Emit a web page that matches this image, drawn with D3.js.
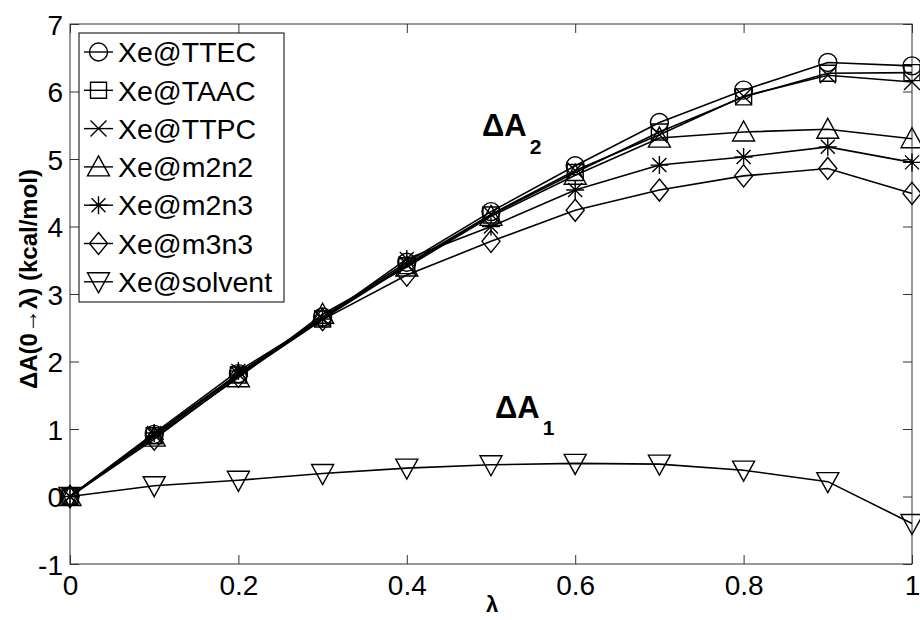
<!DOCTYPE html>
<html lang="en">
<head>
    <meta charset="UTF-8">
    <title>Free energy vs lambda</title>
    <style>
        body { margin: 0; background: #fff; }
        text { font-family: "Liberation Sans", Arial, sans-serif; }
    </style>
</head>
<body>
<script src="https://d3js.org/d3.v7.min.js"></script>
<script>
    // lambda values along x
    var lambda = [0, 0.1, 0.2, 0.3, 0.4, 0.5, 0.6, 0.7, 0.8, 0.9, 1.0];

    // series (kcal/mol)
    var names = ['Xe@TTEC', 'Xe@TAAC', 'Xe@TTPC', 'Xe@m2n2', 'Xe@m2n3', 'Xe@m3n3', 'Xe@solvent'];
    var ttec    = [0, 0.92, 1.82, 2.66, 3.47, 4.22, 4.90, 5.54, 6.02, 6.43, 6.38];
    var taac    = [0, 0.90, 1.80, 2.63, 3.42, 4.17, 4.80, 5.40, 5.92, 6.27, 6.28];
    var ttpc    = [0, 0.91, 1.81, 2.64, 3.44, 4.18, 4.83, 5.36, 5.93, 6.24, 6.14];
    var m2n2    = [0, 0.88, 1.76, 2.70, 3.40, 4.15, 4.76, 5.31, 5.40, 5.44, 5.30];
    var m2n3    = [0, 0.94, 1.86, 2.63, 3.52, 4.00, 4.54, 4.91, 5.03, 5.18, 4.95];
    var m3n3    = [0, 0.85, 1.78, 2.62, 3.28, 3.78, 4.24, 4.54, 4.75, 4.86, 4.49];
    var solvent = [0, 0.16, 0.24, 0.34, 0.42, 0.47, 0.49, 0.48, 0.39, 0.22, -0.40];
    var markers = ['circle', 'square', 'x', 'triangle', 'star', 'diamond', 'tridown'];

    var xTicks = [0, 0.2, 0.4, 0.6, 0.8, 1];
    var xTickLabels = ['0', '0.2', '0.4', '0.6', '0.8', '1'];
    var yTicks = [-1, 0, 1, 2, 3, 4, 5, 6, 7];
    var yTickLabels = ['-1', '0', '1', '2', '3', '4', '5', '6', '7'];

    var series = [ttec, taac, ttpc, m2n2, m2n3, m3n3, solvent].map(function(v, i) {
        return { name: names[i], marker: markers[i], values: v };
    });

    var W = 920, H = 620;
    var margin = {top: 24, right: 8, bottom: 56, left: 70},
        width = W - margin.left - margin.right,
        height = H - margin.top - margin.bottom;

    var x = d3.scaleLinear().domain([0, 1]).range([0, width]);
    var y = d3.scaleLinear().domain([-1, 7]).range([height, 0]);

    var svg = d3.select('body').append('svg')
        .attr('width', W).attr('height', H);
    var g = svg.append('g')
        .attr('transform', `translate(${margin.left}, ${margin.top})`);

    // marker shapes, MATLAB style
    function markerPath(type) {
        var p = d3.path();
        if (type === 'circle') {
            p.moveTo(9, 0); p.arc(0, 0, 9, 0, 2 * Math.PI);
        } else if (type === 'square') {
            p.rect(-8, -8, 16, 16);
        } else if (type === 'x') {
            p.moveTo(-8, -8); p.lineTo(8, 8);
            p.moveTo(-8, 8); p.lineTo(8, -8);
        } else if (type === 'star') {
            p.moveTo(-9, 0); p.lineTo(9, 0);
            p.moveTo(0, -9); p.lineTo(0, 9);
            p.moveTo(-7, -7); p.lineTo(7, 7);
            p.moveTo(-7, 7); p.lineTo(7, -7);
        } else if (type === 'triangle') {
            p.moveTo(0, -11); p.lineTo(11, 9); p.lineTo(-11, 9); p.closePath();
        } else if (type === 'tridown') {
            p.moveTo(0, 11); p.lineTo(11, -9); p.lineTo(-11, -9); p.closePath();
        } else if (type === 'diamond') {
            p.moveTo(0, -11); p.lineTo(9, 0); p.lineTo(0, 11); p.lineTo(-9, 0); p.closePath();
        }
        return p.toString();
    }

    // frame
    g.append('rect')
        .attr('width', width).attr('height', height)
        .attr('fill', 'none').attr('stroke', '#333').attr('stroke-width', 1);

    var tickLen = 9;
    var xAxis = d3.axisBottom(x).tickValues(xTicks).tickSize(-tickLen)
        .tickFormat(function(d, i) { return xTickLabels[i]; });
    var yAxis = d3.axisLeft(y).tickValues(yTicks).tickSize(-tickLen)
        .tickFormat(function(d, i) { return yTickLabels[i]; });

    var gx = g.append('g').attr('transform', `translate(0, ${height})`).call(xAxis);
    var gy = g.append('g').call(yAxis);
    g.append('g').call(d3.axisTop(x).tickValues(xTicks).tickSize(-tickLen).tickFormat(''));
    g.append('g').attr('transform', `translate(${width}, 0)`)
        .call(d3.axisRight(y).tickValues(yTicks).tickSize(-tickLen).tickFormat(''));

    g.selectAll('.domain').remove();
    g.selectAll('.tick line').attr('stroke', '#333');
    gx.selectAll('text').attr('font-size', 28).attr('fill', '#000')
        .attr('dy', null).attr('y', 11).attr('dominant-baseline', 'hanging');
    gy.selectAll('text').attr('font-size', 28).attr('fill', '#000')
        .attr('x', -7).attr('dy', '0.36em');

    // lines and markers
    var line = d3.line()
        .x(function(d, i) { return x(lambda[i]); })
        .y(function(d) { return y(d); });

    series.forEach(function(s) {
        g.append('path')
            .attr('d', line(s.values))
            .attr('fill', 'none').attr('stroke', '#000').attr('stroke-width', 1.6);
        g.append('g').selectAll('path')
            .data(s.values)
          .enter().append('path')
            .attr('transform', function(d, i) { return `translate(${x(lambda[i])}, ${y(d)})`; })
            .attr('d', markerPath(s.marker))
            .attr('fill', 'none').attr('stroke', '#000').attr('stroke-width', 1.4);
    });

    // legend
    var leg = svg.append('g').attr('transform', 'translate(79, 33)');
    leg.append('rect')
        .attr('width', 205).attr('height', 269)
        .attr('fill', '#fff').attr('stroke', '#000').attr('stroke-width', 1);
    series.forEach(function(s, i) {
        var ly = 19 + i * 38.3;
        var row = leg.append('g').attr('transform', `translate(0, ${ly})`);
        row.append('line').attr('x1', 5).attr('x2', 34).attr('y1', 0).attr('y2', 0)
            .attr('stroke', '#000').attr('stroke-width', 1.4);
        row.append('path').attr('transform', 'translate(19.5, 0)')
            .attr('d', markerPath(s.marker))
            .attr('fill', 'none').attr('stroke', '#000').attr('stroke-width', 1.4);
        row.append('text').attr('x', 39).attr('y', 0).attr('dy', '0.36em')
            .attr('font-size', 28.5).text(s.name);
    });

    // annotations
    var a2 = svg.append('text').attr('x', 482).attr('y', 136)
        .attr('font-size', 31).attr('font-weight', 'bold');
    a2.append('tspan').text('\u0394A');
    a2.append('tspan').attr('font-size', 21).attr('dy', 18).attr('dx', 3).text('2');

    var a1 = svg.append('text').attr('x', 495).attr('y', 418)
        .attr('font-size', 31).attr('font-weight', 'bold');
    a1.append('tspan').text('\u0394A');
    a1.append('tspan').attr('font-size', 21).attr('dy', 17).attr('dx', 3).text('1');

    // axis labels
    svg.append('text')
        .attr('transform', 'translate(37, 279) rotate(-90)')
        .attr('text-anchor', 'middle')
        .attr('font-size', 24).attr('font-weight', 'bold')
        .text('\u0394A(0\u2192\u03bb) (kcal/mol)');

    svg.append('text')
        .attr('x', 492).attr('y', 612)
        .attr('text-anchor', 'middle')
        .attr('font-size', 22).attr('font-weight', 'bold')
        .text('\u03bb');
</script>
</body>
</html>
